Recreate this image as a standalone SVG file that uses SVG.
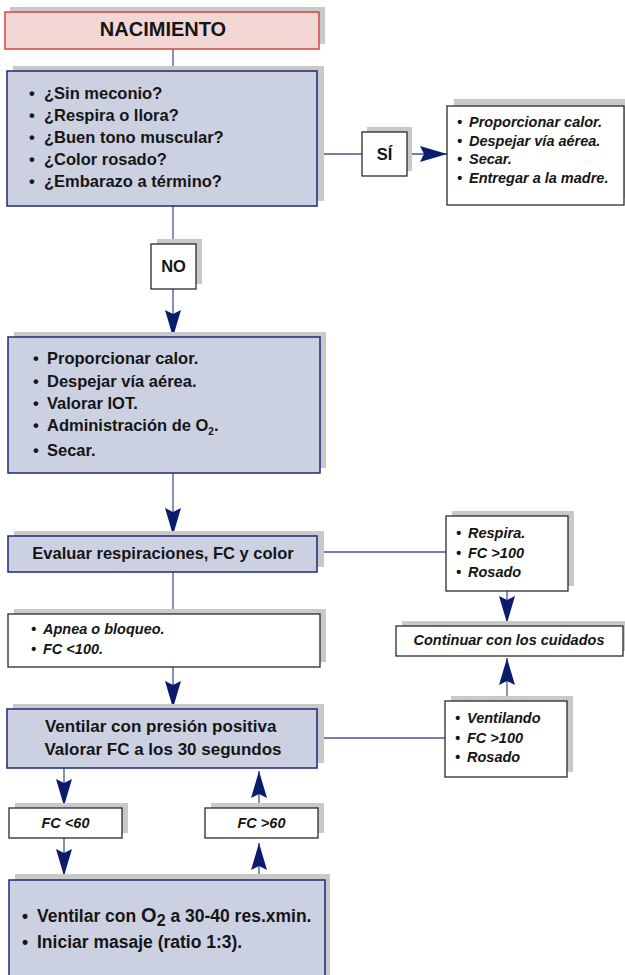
<svg xmlns="http://www.w3.org/2000/svg" width="625" height="975" viewBox="0 0 625 975">
  <defs>
    <marker id="arrow" viewBox="0 0 27 16" refX="27" refY="8" markerWidth="27" markerHeight="16" markerUnits="userSpaceOnUse" orient="auto">
      <path d="M0,0 L27,8 L0,16 L4,8 Z" fill="#0b1c6e"/>
    </marker>
  </defs>
  <style>
    .shadow { fill: #c9c9c9; }
    .blue { fill: #ccd1e2; stroke: #1b2878; stroke-width: 1.5; }
    .white { fill: #ffffff; stroke: #2a2a2a; stroke-width: 1.3; }
    .pink { fill: #f3d7d5; stroke: #d8463d; stroke-width: 1.5; }
    .link { fill: none; stroke: #44559a; stroke-width: 1.3; }
    .arr { marker-end: url(#arrow); }
    text { font-family: "Liberation Sans", Arial, sans-serif; font-weight: bold; fill: #151515; }
    .t16 { font-size: 16.5px; }
    .t17 { font-size: 17px; }
    .t20 { font-size: 20px; }
    .it { font-style: italic; font-size: 14.5px; }
    .mid { text-anchor: middle; }
  </style>

  <!-- connectors -->
  <g id="connectors">
    <line class="link" x1="173" y1="49" x2="173" y2="71"/>
    <line class="link" x1="173" y1="206" x2="173" y2="244"/>
    <line class="link arr" x1="173" y1="289" x2="173" y2="337"/>
    <line class="link" x1="317" y1="154" x2="362" y2="154"/>
    <line class="link arr" x1="407" y1="154" x2="447" y2="154"/>
    <line class="link arr" x1="173" y1="473" x2="173" y2="535"/>
    <line class="link" x1="317" y1="552" x2="446" y2="552"/>
    <line class="link" x1="173" y1="572" x2="173" y2="614"/>
    <line class="link arr" x1="173" y1="667" x2="173" y2="708"/>
    <line class="link arr" x1="507" y1="591" x2="507" y2="623"/>
    <line class="link arr" x1="507" y1="701" x2="507" y2="658"/>
    <line class="link" x1="317" y1="738" x2="445" y2="738"/>
    <line class="link arr" x1="64" y1="768" x2="64" y2="806"/>
    <line class="link arr" x1="64" y1="838" x2="64" y2="876"/>
    <line class="link arr" x1="259" y1="880" x2="259" y2="843"/>
    <line class="link arr" x1="259" y1="808" x2="259" y2="771"/>
  </g>

  <!-- start -->
  <g id="nacimiento">
    <rect class="shadow" x="10" y="7" width="315" height="37"/>
    <rect class="pink" x="5" y="12" width="314" height="37"/>
    <text class="t20 mid" x="163" y="36">NACIMIENTO</text>
  </g>

  <!-- initial assessment questions -->
  <g id="preguntas">
    <rect class="shadow" x="13" y="66" width="311" height="135"/>
    <rect class="blue" x="7" y="71" width="310" height="135"/>
    <text class="t16">
      <tspan x="29" y="99">•</tspan><tspan x="44" y="99">¿Sin meconio?</tspan>
      <tspan x="29" y="121">•</tspan><tspan x="44" y="121">¿Respira o llora?</tspan>
      <tspan x="29" y="143">•</tspan><tspan x="44" y="143">¿Buen tono muscular?</tspan>
      <tspan x="29" y="165">•</tspan><tspan x="44" y="165">¿Color rosado?</tspan>
      <tspan x="29" y="187">•</tspan><tspan x="44" y="187">¿Embarazo a término?</tspan>
    </text>
  </g>

  <g id="si">
    <rect class="shadow" x="367" y="127" width="45" height="44"/>
    <rect class="white" x="362" y="132" width="45" height="44"/>
    <text class="t16 mid" x="384.5" y="160">SÍ</text>
  </g>

  <g id="cuidados-rutina">
    <rect class="shadow" x="454" y="99" width="177" height="99"/>
    <rect class="white" x="447" y="106" width="177" height="99"/>
    <text class="it">
      <tspan x="457" y="127">•</tspan><tspan x="469" y="127">Proporcionar calor.</tspan>
      <tspan x="457" y="145.5">•</tspan><tspan x="469" y="145.5">Despejar vía aérea.</tspan>
      <tspan x="457" y="164">•</tspan><tspan x="469" y="164">Secar.</tspan>
      <tspan x="457" y="182.5">•</tspan><tspan x="469" y="182.5">Entregar a la madre.</tspan>
    </text>
  </g>

  <g id="no">
    <rect class="shadow" x="157" y="239" width="45" height="45"/>
    <rect class="white" x="151" y="244" width="45" height="45"/>
    <text class="t16 mid" x="173.5" y="272">NO</text>
  </g>

  <!-- initial steps -->
  <g id="pasos-iniciales">
    <rect class="shadow" x="14" y="332" width="312" height="136"/>
    <rect class="blue" x="8" y="337" width="312" height="136"/>
    <text class="t16">
      <tspan x="33" y="364">•</tspan><tspan x="47" y="364">Proporcionar calor.</tspan>
      <tspan x="33" y="387">•</tspan><tspan x="47" y="387">Despejar vía aérea.</tspan>
      <tspan x="33" y="409">•</tspan><tspan x="47" y="409">Valorar IOT.</tspan>
      <tspan x="33" y="431">•</tspan><tspan x="47" y="431">Administración de O<tspan font-size="10" dy="4">2</tspan><tspan dy="-4">.</tspan></tspan>
      <tspan x="33" y="456">•</tspan><tspan x="47" y="456">Secar.</tspan>
    </text>
  </g>

  <g id="evaluar">
    <rect class="shadow" x="14" y="531" width="310" height="36"/>
    <rect class="blue" x="8" y="536" width="309" height="36"/>
    <text class="t16 mid" x="163" y="559">Evaluar respiraciones, FC y color</text>
  </g>

  <g id="apnea">
    <rect class="shadow" x="14" y="609" width="312" height="53"/>
    <rect class="white" x="8" y="614" width="312" height="53"/>
    <text class="it">
      <tspan x="31" y="634">•</tspan><tspan x="43" y="634">Apnea o bloqueo.</tspan>
      <tspan x="31" y="654">•</tspan><tspan x="43" y="654">FC &lt;100.</tspan>
    </text>
  </g>

  <g id="ventilar">
    <rect class="shadow" x="13" y="704" width="311" height="59"/>
    <rect class="blue" x="7" y="709" width="310" height="59"/>
    <text class="t17 mid">
      <tspan x="163" y="732">Ventilar con presión positiva</tspan>
      <tspan x="163" y="755">Valorar FC a los 30 segundos</tspan>
    </text>
  </g>

  <g id="fc-menor-60">
    <rect class="shadow" x="15" y="803" width="113" height="30"/>
    <rect class="white" x="9" y="808" width="113" height="30"/>
    <text class="it mid" x="65.5" y="828">FC &lt;60</text>
  </g>

  <g id="fc-mayor-60">
    <rect class="shadow" x="211" y="803" width="113" height="30"/>
    <rect class="white" x="205" y="808" width="113" height="30"/>
    <text class="it mid" x="261.5" y="828">FC &gt;60</text>
  </g>

  <g id="masaje">
    <rect class="shadow" x="15" y="874" width="315" height="110"/>
    <rect class="blue" x="9" y="880" width="316" height="110"/>
    <text font-size="17.5">
      <tspan x="22" y="922">•</tspan><tspan x="37" y="922">Ventilar con <tspan font-size="20">O</tspan><tspan font-size="16" dy="4">2</tspan><tspan dy="-4"> a 30-40 res.xmin.</tspan></tspan>
      <tspan x="22" y="948">•</tspan><tspan x="37" y="948">Iniciar masaje (ratio 1:3).</tspan>
    </text>
  </g>

  <g id="respira">
    <rect class="shadow" x="452" y="511" width="122" height="75"/>
    <rect class="white" x="446" y="516" width="122" height="75"/>
    <text class="it">
      <tspan x="456" y="538">•</tspan><tspan x="468" y="538">Respira.</tspan>
      <tspan x="456" y="557.5">•</tspan><tspan x="468" y="557.5">FC &gt;100</tspan>
      <tspan x="456" y="577">•</tspan><tspan x="468" y="577">Rosado</tspan>
    </text>
  </g>

  <g id="continuar">
    <rect class="shadow" x="402" y="621" width="228" height="30"/>
    <rect class="white" x="396" y="626" width="227" height="30"/>
    <text class="it mid" x="509" y="645">Continuar con los cuidados</text>
  </g>

  <g id="ventilando">
    <rect class="shadow" x="451" y="696" width="122" height="76"/>
    <rect class="white" x="445" y="701" width="122" height="76"/>
    <text class="it">
      <tspan x="455" y="723">•</tspan><tspan x="467" y="723">Ventilando</tspan>
      <tspan x="455" y="742.5">•</tspan><tspan x="467" y="742.5">FC &gt;100</tspan>
      <tspan x="455" y="762">•</tspan><tspan x="467" y="762">Rosado</tspan>
    </text>
  </g>
</svg>
